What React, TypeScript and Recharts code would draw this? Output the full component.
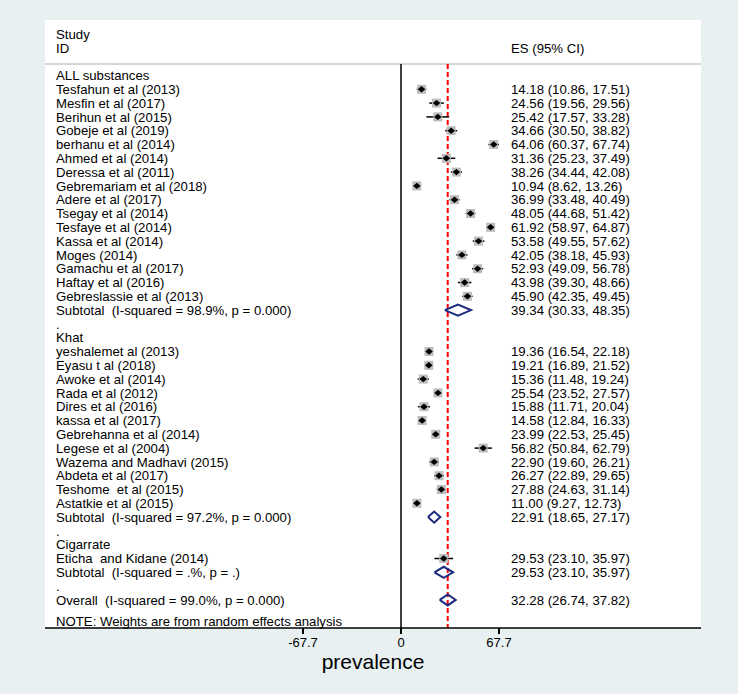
import React from 'react';
import {
  ComposedChart,
  Scatter,
  XAxis,
  YAxis,
  ReferenceLine,
  ErrorBar,
  CartesianGrid,
} from 'recharts';

// ---------- data ----------
const groupTitles = ['ALL substances', 'Khat', 'Cigarrate'];

const allNames = [
  'Tesfahun et al (2013)',
  'Mesfin et al (2017)',
  'Berihun et al (2015)',
  'Gobeje et al (2019)',
  'berhanu et al (2014)',
  'Ahmed et al (2014)',
  'Deressa et al (2011)',
  'Gebremariam et al (2018)',
  'Adere et al (2017)',
  'Tsegay et al (2014)',
  'Tesfaye et al (2014)',
  'Kassa et al (2014)',
  'Moges (2014)',
  'Gamachu et al (2017)',
  'Haftay et al (2016)',
  'Gebreslassie et al (2013)',
];
const allES = [14.18, 24.56, 25.42, 34.66, 64.06, 31.36, 38.26, 10.94, 36.99, 48.05, 61.92, 53.58, 42.05, 52.93, 43.98, 45.9];
const allLo = [10.86, 19.56, 17.57, 30.5, 60.37, 25.23, 34.44, 8.62, 33.48, 44.68, 58.97, 49.55, 38.18, 49.09, 39.3, 42.35];
const allHi = [17.51, 29.56, 33.28, 38.82, 67.74, 37.49, 42.08, 13.26, 40.49, 51.42, 64.87, 57.62, 45.93, 56.78, 48.66, 49.45];

const khatNames = [
  'yeshalemet al (2013)',
  'Eyasu t al (2018)',
  'Awoke et al (2014)',
  'Rada et al (2012)',
  'Dires et al (2016)',
  'kassa et al (2017)',
  'Gebrehanna et al (2014)',
  'Legese et al (2004)',
  'Wazema and Madhavi (2015)',
  'Abdeta et al (2017)',
  'Teshome  et al (2015)',
  'Astatkie et al (2015)',
];
const khatES = [19.36, 19.21, 15.36, 25.54, 15.88, 14.58, 23.99, 56.82, 22.9, 26.27, 27.88, 11.0];
const khatLo = [16.54, 16.89, 11.48, 23.52, 11.71, 12.84, 22.53, 50.84, 19.6, 22.89, 24.63, 9.27];
const khatHi = [22.18, 21.52, 19.24, 27.57, 20.04, 16.33, 25.45, 62.79, 26.21, 29.65, 31.14, 12.73];

const cigNames = ['Eticha  and Kidane (2014)'];
const cigES = [29.53];
const cigLo = [23.1];
const cigHi = [35.97];

const subtotalLabels = [
  'Subtotal  (I-squared = 98.9%, p = 0.000)',
  'Subtotal  (I-squared = 97.2%, p = 0.000)',
  'Subtotal  (I-squared = .%, p = .)',
];
const subtotalES = [39.34, 22.91, 29.53];
const subtotalLo = [30.33, 18.65, 23.1];
const subtotalHi = [48.35, 27.17, 35.97];

const overallLabel = 'Overall  (I-squared = 99.0%, p = 0.000)';
const overallES = 32.28;
const overallLo = 26.74;
const overallHi = 37.82;

const headerStudy = 'Study';
const headerID = 'ID';
const headerES = 'ES (95% CI)';
const noteText = 'NOTE: Weights are from random effects analysis';
const xTitle = 'prevalence';
const xTicks = [-67.7, 0, 67.7];

// ---------- layout constants ----------
const FONT = '"Liberation Sans", Arial, Helvetica, sans-serif';
const X_MIN = -245.93;
const X_MAX = 207.25;
const Y_MIN = -4.022;
const Y_MAX = 40.036;
const HEADER_LINE = -0.83;
const NOTE_ROW = 39.58;
const NAVY = '#1c2a80';

// ---------- build rows ----------
type Row = { label: string; es?: string };
const fmt = (es: number, lo: number, hi: number) =>
  `${es.toFixed(2)} (${lo.toFixed(2)}, ${hi.toFixed(2)})`;

const rows: Row[] = [];
const studyPts: { x: number; y: number; err: number[] }[] = [];
const diamonds: { es: number; lo: number; hi: number; y: number }[] = [];

const groups = [
  { names: allNames, es: allES, lo: allLo, hi: allHi },
  { names: khatNames, es: khatES, lo: khatLo, hi: khatHi },
  { names: cigNames, es: cigES, lo: cigLo, hi: cigHi },
];

groups.forEach((g, gi) => {
  rows.push({ label: groupTitles[gi] });
  g.names.forEach((n, i) => {
    const r = rows.length;
    rows.push({ label: n, es: fmt(g.es[i], g.lo[i], g.hi[i]) });
    studyPts.push({ x: g.es[i], y: r, err: [g.es[i] - g.lo[i], g.hi[i] - g.es[i]] });
  });
  const r = rows.length;
  rows.push({ label: subtotalLabels[gi], es: fmt(subtotalES[gi], subtotalLo[gi], subtotalHi[gi]) });
  diamonds.push({ es: subtotalES[gi], lo: subtotalLo[gi], hi: subtotalHi[gi], y: r });
  rows.push({ label: '.' });
});
const overallRow = rows.length;
rows.push({ label: overallLabel, es: fmt(overallES, overallLo, overallHi) });
diamonds.push({ es: overallES, lo: overallLo, hi: overallHi, y: overallRow });

const tickMap: Record<string, Row> = {};
tickMap['-3'] = { label: headerStudy };
tickMap['-2'] = { label: headerID, es: headerES };
rows.forEach((r, i) => {
  tickMap[String(i)] = r;
});
tickMap[String(NOTE_ROW)] = { label: noteText };
const yTicks = [-3, -2, ...rows.map((_, i) => i), NOTE_ROW];

const DH = 0.4;
const diamondData = diamonds.map((d) => [
  { x: d.lo, y: d.y },
  { x: d.es, y: d.y - DH },
  { x: d.hi, y: d.y },
  { x: d.es, y: d.y + DH },
  { x: d.lo, y: d.y },
]);

// ---------- renderers ----------
const RowTick = (props: any) => {
  const { y, payload } = props;
  const row = tickMap[String(payload.value)];
  if (!row) return <g />;
  const style = { whiteSpace: 'pre' as const };
  return (
    <g>
      <text x={56} y={y} dy="0.35em" fontSize={13.2} fill="#000" fontFamily={FONT} style={style}>
        {row.label}
      </text>
      {row.es ? (
        <text x={511} y={y} dy="0.35em" fontSize={13.2} fill="#000" fontFamily={FONT} style={style}>
          {row.es}
        </text>
      ) : null}
    </g>
  );
};

const XTick = (props: any) => {
  const { x, y, payload } = props;
  return (
    <text x={x} y={y + 10} textAnchor="middle" fontSize={13} fill="#000" fontFamily={FONT}>
      {String(payload.value)}
    </text>
  );
};

const BoxShape = (props: any) => {
  const { cx, cy } = props;
  if (cx == null || cy == null) return <g />;
  return <rect x={cx - 4.5} y={cy - 4.5} width={9} height={9} fill="#bdbdbd" />;
};

const PointShape = (props: any) => {
  const { cx, cy } = props;
  if (cx == null || cy == null) return <g />;
  return (
    <polygon
      points={`${cx - 3.8},${cy} ${cx},${cy - 3.2} ${cx + 3.8},${cy} ${cx},${cy + 3.2}`}
      fill="#000"
    />
  );
};

const Empty = () => <g />;

export default function App() {
  return (
    <div
      style={{
        position: 'absolute',
        left: 0,
        top: 0,
        width: 738,
        height: 694,
        background: '#e8f0f2',
        fontFamily: FONT,
      }}
    >
      <ComposedChart
        width={738}
        height={694}
        margin={{ top: 20, right: 37, bottom: 24, left: 44 }}
      >
        <CartesianGrid fill="#ffffff" horizontal={false} vertical={false} />
        <XAxis
          type="number"
          dataKey="x"
          domain={[X_MIN, X_MAX]}
          allowDataOverflow
          ticks={xTicks}
          interval={0}
          height={42}
          tickSize={6}
          tickMargin={3}
          axisLine={{ stroke: '#000', strokeWidth: 1.5 }}
          tickLine={{ stroke: '#000', strokeWidth: 2 }}
          tick={<XTick />}
          label={{
            position: 'insideBottom',
            content: (p: any) => {
              const vb = p.viewBox || {};
              return (
                <text
                  x={(vb.x ?? 45) + (vb.width ?? 656) / 2}
                  y={(vb.y ?? 628) + 41}
                  textAnchor="middle"
                  fontSize={21}
                  fill="#000"
                  fontFamily={FONT}
                >
                  {xTitle}
                </text>
              );
            },
          }}
        />
        <YAxis
          type="number"
          dataKey="y"
          domain={[Y_MIN, Y_MAX]}
          allowDataOverflow
          reversed
          ticks={yTicks}
          interval={0}
          width={1}
          tickLine={false}
          axisLine={false}
          tick={<RowTick />}
        />
        <ReferenceLine y={HEADER_LINE} stroke="#c8c8c8" strokeWidth={1.5} />
        <ReferenceLine
          segment={[
            { x: 0, y: HEADER_LINE },
            { x: 0, y: Y_MAX },
          ]}
          stroke="#000"
          strokeWidth={1.5}
        />
        <ReferenceLine
          segment={[
            { x: overallES, y: HEADER_LINE },
            { x: overallES, y: Y_MAX },
          ]}
          stroke="#ff0000"
          strokeWidth={2}
          strokeDasharray="5 3"
        />
        <Scatter data={studyPts} shape={<BoxShape />} isAnimationActive={false} />
        <Scatter data={studyPts} shape={<PointShape />} isAnimationActive={false}>
          <ErrorBar
            dataKey="err"
            direction="x"
            width={0}
            stroke="#000"
            strokeWidth={1.5}
            isAnimationActive={false}
          />
        </Scatter>
        {diamondData.map((d, i) => (
          <Scatter
            key={i}
            data={d}
            shape={<Empty />}
            line={{ stroke: NAVY, strokeWidth: 2, strokeLinejoin: 'miter' }}
            lineType="joint"
            isAnimationActive={false}
          />
        ))}
      </ComposedChart>
    </div>
  );
}
